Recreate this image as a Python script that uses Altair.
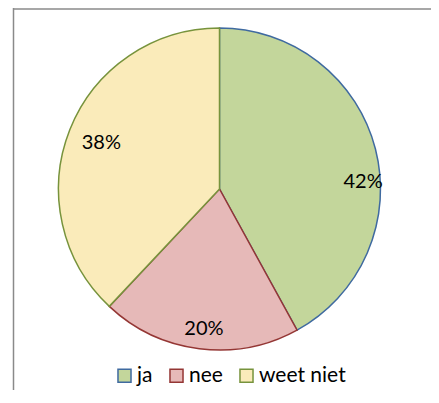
import altair as alt
import pandas as pd

categories = ["ja", "nee", "weet niet"]
values = [42, 20, 38]
labels = ["42%", "20%", "38%"]
fills = ["#C3D69B", "#E6B9B8", "#FAEBBA"]
strokes = ["#3F6AA0", "#943634", "#77933C"]

df = pd.DataFrame({"cat": categories, "value": values, "label": labels})
frame_df = pd.DataFrame({"k": [0]})

FONT = "Lato"

legend = alt.Legend(
    title=None, orient="none", legendX=106, legendY=357, direction="horizontal",
    symbolType="square", symbolSize=170, symbolStrokeWidth=1.5,
    labelFont=FONT, labelFontSize=21, labelColor="#000000",
    columnPadding=13, labelOffset=2,
)

base = alt.Chart(df).encode(
    theta=alt.Theta("value:Q", stack=True),
    order=alt.Order("cat:N", sort="ascending"),
)

pie = base.mark_arc(radius=161, strokeWidth=1.5).encode(
    fill=alt.Fill("cat:N", scale=alt.Scale(domain=categories, range=fills), legend=legend),
    stroke=alt.Stroke("cat:N", scale=alt.Scale(domain=categories, range=strokes), legend=legend),
)

def label_layer(cat, dx, dy):
    return base.mark_text(radius=140, font=FONT, fontSize=20, color="#000000", dx=dx, dy=dy).encode(
        text="label:N", detail="cat:N",
        opacity=alt.condition(alt.datum.cat == cat, alt.value(1), alt.value(0)),
    )

frame_left = alt.Chart(frame_df).mark_rule(color="#8a8a8a", strokeWidth=1.5).encode(
    x=alt.value(5.5), y=alt.value(0), y2=alt.value(382)
)
frame_top = alt.Chart(frame_df).mark_rule(color="#8a8a8a", strokeWidth=1.5).encode(
    x=alt.value(5.5), x2=alt.value(423), y=alt.value(1)
)

chart = alt.layer(
    frame_left, frame_top, pie,
    label_layer("ja", 8, 28), label_layer("nee", 2, 1), label_layer("weet niet", 12, 6),
).properties(
    width=423, height=362,
    autosize=alt.AutoSizeParams(type="none"),
    padding={"left": 0, "top": 0, "right": 0, "bottom": 20},
).configure_view(strokeWidth=0, stroke="transparent")

chart.save("out.html", embed_options={"renderer": "svg", "actions": False})
